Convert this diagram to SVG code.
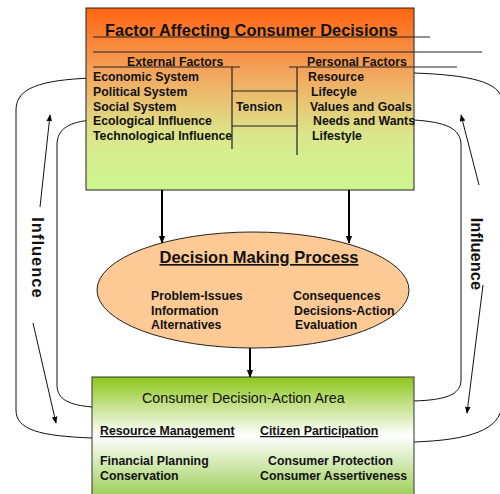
<svg xmlns="http://www.w3.org/2000/svg" width="500" height="494" viewBox="0 0 500 494">
<defs>
<linearGradient id="gTop" x1="0" y1="0" x2="0" y2="1">
<stop offset="0" stop-color="#ff6410"/>
<stop offset="0.35" stop-color="#f4a45c"/>
<stop offset="0.7" stop-color="#dbe78c"/>
<stop offset="1" stop-color="#ccf690"/>
</linearGradient>
<linearGradient id="gBot" x1="0" y1="0" x2="0" y2="1">
<stop offset="0" stop-color="#8dc61c"/>
<stop offset="0.45" stop-color="#ffffff"/>
<stop offset="1" stop-color="#8cc63a"/>
</linearGradient>
<marker id="ah" viewBox="0 0 10 10" refX="9" refY="5" markerWidth="8" markerHeight="8" markerUnits="userSpaceOnUse" orient="auto">
<path d="M0,1 L10,5 L0,9 z" fill="#000"/>
</marker>
<marker id="ahs" viewBox="0 0 10 10" refX="9" refY="5" markerWidth="7" markerHeight="7" markerUnits="userSpaceOnUse" orient="auto">
<path d="M0,1 L10,5 L0,9 z" fill="#000"/>
</marker>
</defs>
<style>
text{font-family:"Liberation Sans",Arial,sans-serif;fill:#111}
.b{font-weight:bold;font-size:12.3px}
.h{font-weight:bold;font-size:16.4px}
.ul{text-decoration:underline}
.ln{stroke:#222;stroke-width:1.2;fill:none}
.lp{stroke:#111;stroke-width:1;fill:none}
.ar{stroke:#000;stroke-width:2;fill:none}
.inf{font-weight:bold;font-size:16.5px}
</style>
<g id="loops">
<path class="lp" d="M92,78 C40,80 16,88 16,110 L16,410 C16,430 40,436 92,438"/>
<path class="lp" d="M92,120 C70,122 57,128 57,145 L57,385 C57,400 70,405 92,407"/>
<path class="lp" d="M414,73 C470,75 500,82 502,100 L502,405 C500,430 470,440 414,442"/>
<path class="lp" d="M414,120 C445,122 461,128 461,145 L461,380 C461,395 445,400 414,401"/>
</g>
<g id="top-box">
<rect x="86" y="8" width="328" height="182" fill="url(#gTop)" stroke="#222" stroke-width="1"/>
<text class="h" x="105" y="36">Factor Affecting Consumer Decisions</text>
<line class="ln" x1="93" y1="37" x2="430" y2="37"/>
<line class="ln" x1="93" y1="52" x2="482" y2="52"/>
<line class="ln" x1="93" y1="67" x2="240" y2="67"/>
<line class="ln" x1="289" y1="67" x2="457" y2="67"/>
<line class="ln" x1="232" y1="67" x2="232" y2="149"/>
<line class="ln" x1="297" y1="67" x2="297" y2="155"/>
<line class="ln" x1="232" y1="91" x2="297" y2="91"/>
<line class="ln" x1="232" y1="126" x2="297" y2="126"/>
<text class="b" x="127" y="66">External Factors</text>
<text class="b" x="307" y="66">Personal Factors</text>
<text class="b" x="93" y="81">Economic System</text>
<text class="b" x="93" y="96">Political System</text>
<text class="b" x="93" y="111">Social System</text>
<text class="b" x="93" y="125">Ecological Influence</text>
<text class="b" x="93" y="140">Technological Influence</text>
<text class="b" x="236" y="111">Tension</text>
<text class="b" x="308" y="81">Resource</text>
<text class="b" x="311" y="96">Lifecyle</text>
<text class="b" x="310" y="111">Values and Goals</text>
<text class="b" x="313" y="125">Needs and Wants</text>
<text class="b" x="312" y="140">Lifestyle</text>
</g>
<g id="connectors">
<line class="ar" x1="162" y1="190" x2="162" y2="243" marker-end="url(#ah)"/>
<line class="ar" x1="349" y1="190" x2="349" y2="243" marker-end="url(#ah)"/>
<line class="ar" x1="250" y1="348" x2="250" y2="377" marker-end="url(#ah)"/>
<line class="lp" x1="40" y1="207" x2="50" y2="115" marker-end="url(#ahs)"/>
<line class="lp" x1="33" y1="323" x2="56" y2="423" marker-end="url(#ahs)"/>
<line class="lp" x1="479" y1="185" x2="461" y2="115" marker-end="url(#ahs)"/>
<line class="lp" x1="483" y1="285" x2="467" y2="413" marker-end="url(#ahs)"/>
</g>
<g id="influence-left">
<text class="inf" transform="translate(32,258) rotate(90)" text-anchor="middle" letter-spacing="1">Influence</text>
</g>
<g id="influence-right">
<text class="inf" transform="translate(471,254) rotate(90)" text-anchor="middle">Influence</text>
</g>
<g id="decision">
<ellipse cx="253" cy="290" rx="156" ry="58" fill="#fdc995" stroke="#222" stroke-width="1"/>
<text class="ul" x="259" y="263" text-anchor="middle" style="font-weight:bold;font-size:16.5px">Decision Making Process</text>
<text class="b" x="151" y="300">Problem-Issues</text>
<text class="b" x="151" y="315">Information</text>
<text class="b" x="151" y="329">Alternatives</text>
<text class="b" x="293" y="300">Consequences</text>
<text class="b" x="294" y="315">Decisions-Action</text>
<text class="b" x="295" y="329">Evaluation</text>
</g>
<g id="action-area">
<rect x="92" y="377" width="322" height="130" fill="url(#gBot)" stroke="#333" stroke-width="1"/>
<text x="142" y="403" style="font-size:14.3px">Consumer Decision-Action Area</text>
<text class="b ul" x="100" y="435">Resource Management</text>
<text class="b ul" x="260" y="435">Citizen Participation</text>
<text class="b" x="100" y="465">Financial Planning</text>
<text class="b" x="100" y="480">Conservation</text>
<text class="b" x="268" y="465">Consumer Protection</text>
<text class="b" x="260" y="480">Consumer Assertiveness</text>
</g>
</svg>
